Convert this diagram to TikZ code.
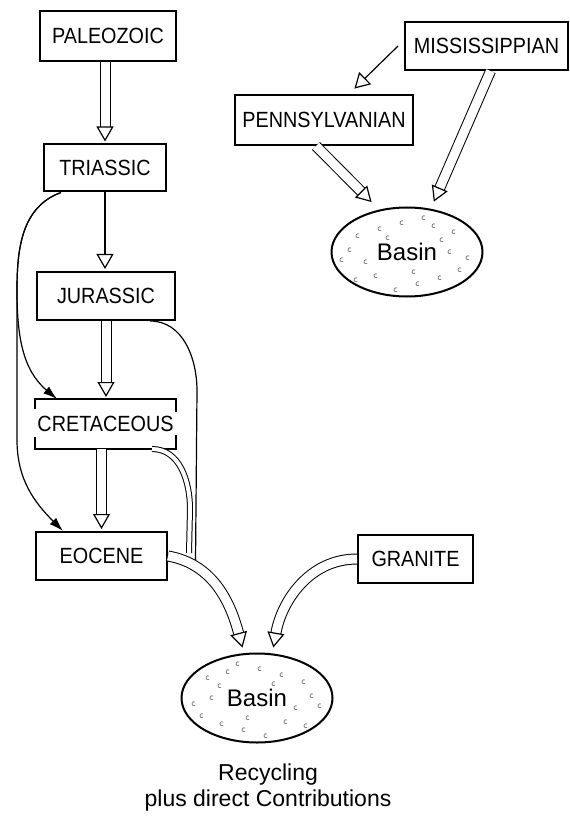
\documentclass[tikz,border=0pt]{standalone}
\usepackage{fontspec}
\setmainfont{Liberation Sans}
\newfontfamily\narrowfont{Liberation Sans}[FakeStretch=0.9]
\usetikzlibrary{arrows.meta, shapes.geometric}

\begin{document}
\begin{tikzpicture}[x=0.5pt, y=0.5pt,
  period/.style={draw, line width=1pt, font=\narrowfont\fontsize{11}{13}\selectfont, minimum height=24pt, inner sep=0pt},
  basin/.style={draw, ellipse, line width=1pt, minimum width=75.5pt, minimum height=44.5pt, inner sep=0pt, font=\fontsize{12}{14}\selectfont},
  hollow/.style={double, double distance=4.5pt, line width=0.5pt, shorten >=1pt, -{Triangle[fill=white, length=7.5pt, width=8.5pt, line width=0.6pt]}},
  thinhollow/.style={line width=0.6pt, shorten >=1pt, -{Triangle[fill=white, length=7.5pt, width=8.5pt, line width=0.6pt]}},
  feed/.style={line width=0.6pt, -{Latex[length=7pt, width=4.5pt]}},
  speck/.style={gray, line width=0.4pt}]

\useasboundingbox (0,0) rectangle (569,-828);

\def\x{0}
\def\y{0}

% left column
\node[period, minimum width=68pt, minimum height=25pt] (paleozoic) at (\x + 108, \y - 36) {PALEOZOIC};
\node[period, minimum width=61pt, minimum height=23.5pt] (triassic) at (\x + 105, \y - 168) {TRIASSIC};
\node[period, minimum width=69pt] (jurassic) at (\x + 106, \y - 296) {JURASSIC};
\node[period, draw=none, minimum width=69.5pt] (cretaceous) at (\x + 105.5, \y - 424) {CRETACEOUS};
\node[period, minimum width=65.5pt] (eocene) at (\x + 101.5, \y - 556) {EOCENE};
\node[period, minimum width=57.5pt] (granite) at (\x + 415.5, \y - 559) {GRANITE};
\node[basin] (lowerbasin) at (\x + 257, \y - 698) {Basin};
\node[align=center, font=\fontsize{11.5}{13}\selectfont] (caption) at (\x + 268, \y - 788) {Recycling\\plus direct Contributions};

\draw[line width=1pt] ([yshift=-5pt]cretaceous.north west) -- (cretaceous.north west) -- (cretaceous.north east) -- ([yshift=-6.5pt]cretaceous.north east);
\draw[line width=1pt] ([yshift=6pt]cretaceous.south west) -- (cretaceous.south west) -- (cretaceous.south east) -- ([yshift=7pt]cretaceous.south east);

\draw[hollow] (paleozoic.south -| triassic.north) -- (triassic.north);
\draw[thinhollow] (triassic.south) -- (triassic.south |- jurassic.north);
\draw[hollow] (jurassic.south) -- (jurassic.south |- cretaceous.north);
\draw[hollow] (cretaceous.south -| eocene.north) -- (eocene.north);

\coordinate (leftrail) at (\x + 17, \y - 290);
\draw[feed] ([xshift=9pt]triassic.south west) to[out=200, in=90] (leftrail) to[out=-90, in=140] ([xshift=11pt]cretaceous.north west);
\draw[feed] ([xshift=9pt]triassic.south west) to[out=200, in=90] (leftrail) -- ++(0,-150) to[out=-90, in=135] ([xshift=14pt]eocene.north west);

\coordinate (jmerge) at (\x + 195.5, \y - 562);
\coordinate (cmerge) at (\x + 189, \y - 553);
\draw[line width=0.6pt] ([xshift=-13pt]jurassic.south east) to[out=0, in=90] ++(47,-70) -- (jmerge);
\draw[double, double distance=2pt, line width=0.5pt] ([xshift=-12pt]cretaceous.south east) to[out=0, in=90] ++(38,-60) -- (cmerge);
\draw[hollow] (eocene.east) to[out=-10, in=105] ([xshift=-7pt, yshift=1.5pt]lowerbasin.north);
\draw[hollow] (granite.west) to[out=180, in=80] ([xshift=8pt, yshift=1.5pt]lowerbasin.north);

% right group
\node[period, minimum width=81.5pt] (mississippian) at (\x + 486.5, \y - 46) {MISSISSIPPIAN};
\node[period, minimum width=89pt, minimum height=25pt] (pennsylvanian) at (\x + 324, \y - 120) {PENNSYLVANIAN};
\node[basin] (upperbasin) at (\x + 407, \y - 252) {Basin};

\draw[thinhollow] ([xshift=-3pt]mississippian.west) -- ([xshift=14.5pt, yshift=2pt]pennsylvanian.north);
\draw[hollow] ([xshift=-4pt]pennsylvanian.south) -- ([xshift=-17pt, yshift=1.5pt]upperbasin.north);
\draw[hollow] ([xshift=2pt]mississippian.south) -- ([xshift=13pt, yshift=1.5pt]upperbasin.north);

\foreach \dx/\dy in {-48/22, -36/14, -18/36, 4/31, 26/25, 48/18, -62/-4, -44/2, 56/4, 40/-8, -34/-24, -12/-30, 10/-36, 30/-22, -54/-16, 64/-6, -28/28, 18/16, -8/-18, 50/-26} {
  \draw[speck] ([shift={(\dx,\dy)}]lowerbasin.center) arc[start angle=60, end angle=300, radius=2];
  \draw[speck] ([shift={(-\dx,\dy)}]upperbasin.center) arc[start angle=60, end angle=300, radius=2];
}

\end{tikzpicture}
\end{document}
